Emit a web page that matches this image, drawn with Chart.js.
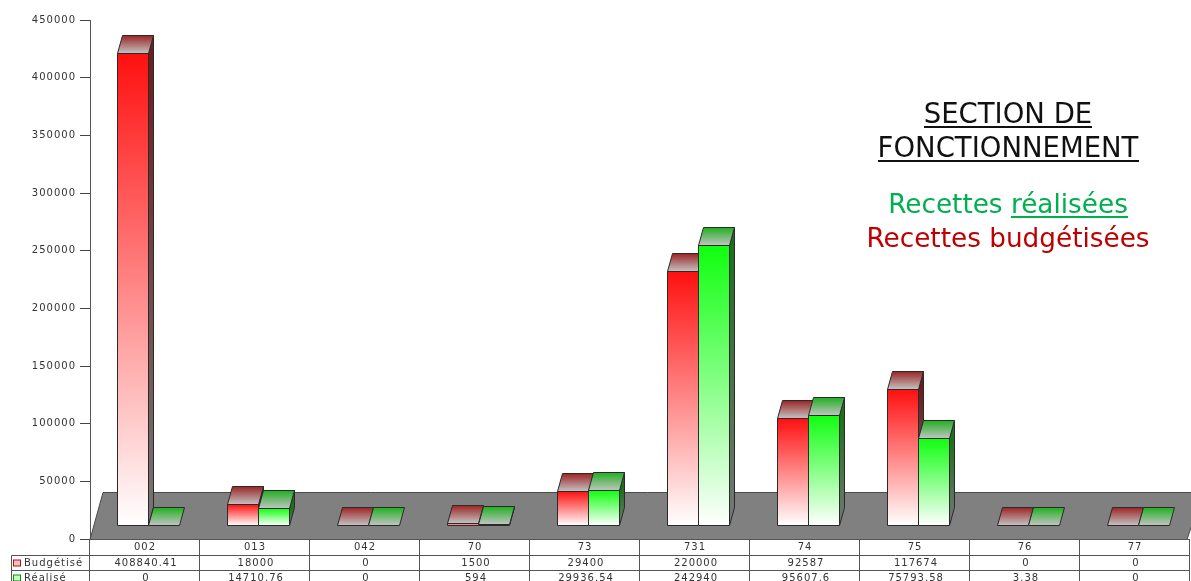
<!DOCTYPE html>
<html>
<head>
<meta charset="utf-8">
<script src="https://cdn.jsdelivr.net/npm/chart.js"></script>
<style>
    html, body { margin: 0; padding: 0; background: #fff; }
    #wrap { width: 1191px; height: 581px; }
</style>
</head>
<body>
<div id="wrap"><canvas id="recettes"></canvas></div>
<script>
        const categories = ['002', '013', '042', '70', '73', '731', '74', '75', '76', '77'];
        const budgetise = [408840.41, 18000, 0, 1500, 29400, 220000, 92587, 117674, 0, 0];
        const realise = [0, 14710.76, 0, 594, 29936.54, 242940, 95607.6, 75793.58, 3.38, 0];
        const seriesNames = ['Budgétisé', 'Réalisé'];
        const yMax = 450000;
        const yStep = 50000;

        // 3D look
        const DX = 5, DY = 18, LIFT = 14, SHIFT = 3;
        const looks = [
            { front: '#ff1010', top: '#9c2424', side: '#6e1c1c', box: '#b01010', boxFill: '#ffc0c0' },
            { front: '#10ff10', top: '#1fb01f', side: '#1e701e', box: '#109010', boxFill: '#c0ffc0' }
        ];

        function poly(ctx, pts) {
            ctx.beginPath();
            ctx.moveTo(pts[0][0], pts[0][1]);
            for (let i = 1; i < pts.length; i++) ctx.lineTo(pts[i][0], pts[i][1]);
            ctx.closePath();
        }

        const spacing = {
            id: 'spacing',
            beforeDraw(chart) { chart.ctx.letterSpacing = '1px'; }
        };

        // grey floor under the bars
        const floor3d = {
            id: 'floor3d',
            beforeDatasetsDraw(chart) {
                const { ctx, chartArea: a, scales: { y } } = chart;
                const y0 = Math.round(y.getPixelForValue(0)) + 0.5;
                ctx.save();
                poly(ctx, [[a.left, y0], [a.left + 13, y0 - 47], [a.right + 13, y0 - 47], [a.right - 3, y0]]);
                ctx.fillStyle = '#808080';
                ctx.fill();
                ctx.strokeStyle = '#4a4a4a';
                ctx.lineWidth = 1;
                ctx.stroke();
                ctx.restore();
            }
        };

        const bars3d = {
            id: 'bars3d',
            afterDatasetsDraw(chart) {
                const ctx = chart.ctx;
                const metas = [chart.getDatasetMeta(0), chart.getDatasetMeta(1)];
                ctx.save();
                ctx.lineWidth = 1;
                ctx.strokeStyle = '#2a2a2a';
                ctx.lineJoin = 'round';
                for (let i = 0; i < categories.length; i++) {
                    metas.forEach((meta, d) => {
                        const el = meta.data[i];
                        const look = looks[d];
                        const l = Math.round(el.x - el.width / 2 + SHIFT) + 0.5;
                        const r = Math.round(el.x + el.width / 2 + SHIFT) + 0.5;
                        const t = Math.round(el.y - LIFT) + 0.5;
                        const b = Math.round(el.base - LIFT) + 0.5;
                        const h = b - t;

                        // side
                        if (h >= 1) {
                            poly(ctx, [[r, t], [r + DX, t - DY], [r + DX, b - DY], [r, b]]);
                            const gs = ctx.createLinearGradient(0, t, 0, b);
                            gs.addColorStop(0, look.side);
                            gs.addColorStop(1, '#777777');
                            ctx.fillStyle = gs;
                            ctx.fill();
                            ctx.stroke();
                        }
                        // top
                        poly(ctx, [[l, t], [l + DX, t - DY], [r + DX, t - DY], [r, t]]);
                        const gt = ctx.createLinearGradient(0, t - DY, 0, t);
                        gt.addColorStop(0, look.top);
                        gt.addColorStop(1, '#c4c4c4');
                        ctx.fillStyle = gt;
                        ctx.fill();
                        ctx.stroke();
                        // front
                        if (h >= 1) {
                            const gf = ctx.createLinearGradient(0, t, 0, b);
                            gf.addColorStop(0, look.front);
                            gf.addColorStop(1, '#ffffff');
                            ctx.fillStyle = gf;
                            ctx.fillRect(l, t, r - l, h);
                            ctx.strokeRect(l, t, r - l, h);
                        }
                    });
                }
                ctx.restore();
            }
        };

        // data table under the chart
        const dataTable = {
            id: 'dataTable',
            afterDraw(chart) {
                const { ctx, chartArea: a, scales: { x } } = chart;
                const top = Math.round(a.bottom) + 0.5;
                const rowH = 16;
                const half = (x.getPixelForValue(1) - x.getPixelForValue(0)) / 2;
                ctx.save();
                ctx.strokeStyle = '#555';
                ctx.lineWidth = 1;
                ctx.beginPath();
                ctx.moveTo(a.left, top); ctx.lineTo(a.right, top);
                ctx.moveTo(11.5, top + rowH); ctx.lineTo(a.right, top + rowH);
                ctx.moveTo(11.5, top + rowH * 2 - 1); ctx.lineTo(a.right, top + rowH * 2 - 1);
                ctx.moveTo(11.5, top + rowH); ctx.lineTo(11.5, 600);
                for (let i = 0; i <= categories.length; i++) {
                    const xx = Math.round(x.getPixelForValue(0) - half + i * half * 2) - 0.5;
                    ctx.moveTo(xx, top); ctx.lineTo(xx, 600);
                }
                ctx.stroke();

                ctx.font = '10px "DejaVu Sans"';
                ctx.fillStyle = '#333';
                ctx.textBaseline = 'middle';
                ctx.textAlign = 'center';
                const rows = [budgetise, realise];
                rows.forEach((vals, r) => {
                    const yy = top + rowH * r + rowH * 1.5 - r;
                    vals.forEach((v, i) => {
                        ctx.fillText(String(v), x.getPixelForValue(i) + 1, yy);
                    });
                    ctx.textAlign = 'left';
                    ctx.fillText(seriesNames[r], 24, yy);
                    ctx.textAlign = 'center';
                    ctx.fillStyle = looks[r].boxFill;
                    ctx.fillRect(13.5, yy - 3.5, 7, 6);
                    ctx.strokeStyle = looks[r].box;
                    ctx.strokeRect(13.5, yy - 3.5, 7, 6);
                    ctx.fillStyle = '#333';
                });
                ctx.restore();
            }
        };

        function drawLine(ctx, text, cx, y, color, underlineFrom) {
            const w = ctx.measureText(text).width;
            const x0 = cx - w / 2;
            ctx.fillStyle = color;
            ctx.textAlign = 'left';
            ctx.fillText(text, x0, y);
            if (underlineFrom !== undefined) {
                const skip = ctx.measureText(text.slice(0, underlineFrom)).width;
                ctx.fillRect(Math.round(x0 + skip), y + 3, Math.round(w - skip), 2);
            }
        }

        const titleText = {
            id: 'titleText',
            afterDraw(chart) {
                const ctx = chart.ctx;
                const cx = chart.chartArea.right - 182;
                ctx.save();
                ctx.letterSpacing = '0px';
                ctx.textBaseline = 'alphabetic';
                ctx.font = '27.5px "DejaVu Sans"';
                drawLine(ctx, 'SECTION DE', cx, 123, '#111', 0);
                drawLine(ctx, 'FONCTIONNEMENT', cx, 157, '#111', 0);
                ctx.font = '26.3px "DejaVu Sans"';
                drawLine(ctx, 'Recettes réalisées', cx, 213, '#00b050', 9);
                drawLine(ctx, 'Recettes budgétisées', cx, 247, '#c00000');
                ctx.restore();
            }
        };

        const chart = new Chart(document.getElementById('recettes'), {
            type: 'bar',
            data: {
                labels: categories,
                datasets: [
                    { label: seriesNames[0], data: budgetise, backgroundColor: 'rgba(0,0,0,0)', borderWidth: 0 },
                    { label: seriesNames[1], data: realise, backgroundColor: 'rgba(0,0,0,0)', borderWidth: 0 }
                ]
            },
            options: {
                responsive: true,
                maintainAspectRatio: false,
                animation: false,
                datasets: { bar: { categoryPercentage: 62 / 110, barPercentage: 1 } },
                layout: { padding: { top: 20, right: 1, left: 0, bottom: 0 } },
                scales: {
                    x: {
                        grid: { display: false, drawTicks: false, tickLength: 0 },
                        border: { display: false },
                        afterFit: s => { s.height = 42; },
                        ticks: {
                            color: '#333',
                            padding: 2,
                            font: { family: 'DejaVu Sans', size: 10 }
                        }
                    },
                    y: {
                        min: 0,
                        max: yMax,
                        afterFit: s => { s.width = 90; },
                        grid: { drawOnChartArea: false, drawTicks: true, tickLength: 10, color: '#444' },
                        border: { display: true, color: '#555' },
                        ticks: {
                            stepSize: yStep,
                            color: '#333',
                            padding: 4,
                            font: { family: 'DejaVu Sans', size: 10 },
                            callback: v => String(v)
                        }
                    }
                },
                plugins: {
                    legend: { display: false },
                    tooltip: { enabled: false }
                }
            },
            plugins: [spacing, floor3d, bars3d, dataTable, titleText]
        });
</script>
</body>
</html>
